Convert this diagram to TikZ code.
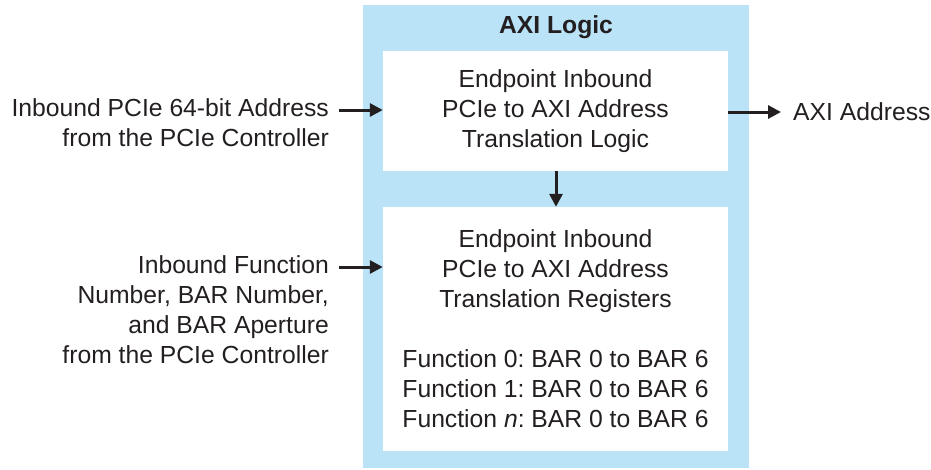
\documentclass[tikz,border=0pt]{standalone}
\usepackage{fontspec}
\setmainfont{Liberation Sans}
\usetikzlibrary{positioning}
\usetikzlibrary{arrows.meta}
\definecolor{axiblue}{RGB}{186,227,248}
\definecolor{inkgray}{RGB}{35,31,32}
\frenchspacing

\begin{document}
\begin{tikzpicture}[x=1pt, y=-1pt,
    every node/.style={text=inkgray, font=\fontsize{24.7}{30}\selectfont},
    logicbox/.style={fill=white, minimum width=345pt, inner sep=0pt, align=center},
    sig/.style={draw=inkgray, line width=3pt, -{Triangle[length=13pt, width=13pt]}},
    note/.style={align=right, anchor=east, inner sep=0pt}]
    \useasboundingbox (0,0) rectangle (931,469);
    % AXI logic block with its two inner boxes
    \node[fill=axiblue, minimum width=386pt, minimum height=463pt, inner sep=0pt] (axi) at (556,236.5) {};
    \node[font=\fontsize{24.7}{30}\bfseries] (axititle) at (556,27) {AXI Logic};
    \node[logicbox, minimum height=120pt] (xlogic) at (555.5,111)
        {Endpoint Inbound\\PCIe to AXI Address\\Translation Logic};
    \node[logicbox, minimum height=244pt] (xregs) at (555.5,329)
        {Endpoint Inbound\\PCIe to AXI Address\\Translation Registers\\[30pt]
         Function 0: BAR 0 to BAR 6\\Function 1: BAR 0 to BAR 6\\Function \emph{n}: BAR 0 to BAR 6};
    \draw[sig] (xlogic.south -| 556,0) -- (xregs.north -| 556,0);
    % inputs from the PCIe controller
    \coordinate (addrin) at (339,110);
    \coordinate (funcin) at (339,267);
    \node[note] (addrtext) at (329,123) {Inbound PCIe 64-bit Address\\from the PCIe Controller};
    \node[note] (functext) at (329,310) {Inbound Function\\Number, BAR Number,\\and BAR Aperture\\from the PCIe Controller};
    \draw[sig] (addrin) -- (addrin -| xlogic.west);
    \draw[sig] (funcin) -- (funcin -| xregs.west);
    % translated address out
    \coordinate (addrout) at (781,112);
    \draw[sig] (addrout -| xlogic.east) -- (addrout);
    \node[anchor=west, inner sep=0pt] (axiaddr) at (793,112) {AXI Address};
\end{tikzpicture}
\end{document}
